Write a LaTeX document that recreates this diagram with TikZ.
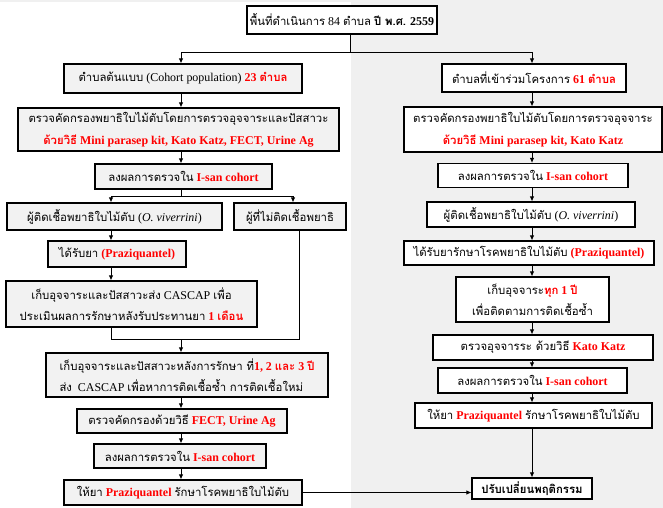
\documentclass[tikz,border=0pt]{standalone}
\usepackage{fontspec}
\setmainfont{Liberation Serif}
\newfontfamily\thaifont[Script=Thai,Scale=0.95]{Loma}
\usetikzlibrary{arrows.meta,shadows}
\definecolor{boxgray}{HTML}{F2F2F2}
\definecolor{panelgray}{HTML}{F0F0F0}
\newcommand\thx[1]{{\thaifont #1}}
\newcommand\rb[1]{{\color{red}\bfseries #1}}
\begin{document}
\begin{tikzpicture}[x=1bp,y=-1bp,
  box/.style={draw=black, line width=1.1bp, fill=boxgray, inner sep=0pt, align=center,
    font=\fontsize{12}{21.5}\selectfont,
    drop shadow={shadow xshift=1bp, shadow yshift=-1bp, opacity=1, fill=black!55}},
  wbox/.style={box, fill=white},
  sz/.style 2 args={minimum width=#1bp, minimum height=#2bp},
  conn/.style={line width=0.9bp, draw=black},
  arr/.style={conn, -{Latex[length=5bp,width=4.5bp]}}
]
\path[use as bounding box] (0,0) rectangle (663,508);
\fill[white] (0,0) rectangle (351,508);
\fill[panelgray] (351,0) rectangle (663,508);
\fill[panelgray] (0,0) rectangle (663,2);

% top
\node[wbox, sz={190}{28}] (top) at (342,20) {\thx{พื้นที่ดำเนินการ} 84 \thx{ตำบล} \textbf{\thx{ปี พ.ศ.} 2559}};

% left column
\node[box, sz={238}{29}] (L1) at (183,78.5) {\thx{ตำบลต้นแบบ} (Cohort population) \rb{23 \thx{ตำบล}}};
\node[box, sz={321}{43}] (L2) at (178.5,129.5) {\thx{ตรวจคัดกรองพยาธิใบไม้ตับโดยการตรวจอุจจาระและปัสสาวะ}\\ \rb{\thx{ด้วยวิธี} Mini parasep kit, Kato Katz, FECT, Urine Ag}};
\node[box, sz={177}{25}] (L3) at (183.5,176.5) {\thx{ลงผลการตรวจใน} \rb{I-san cohort}};
\node[box, sz={215}{27}] (L4) at (114.5,216.5) {\thx{ผู้ติดเชื้อพยาธิใบไม้ตับ} (\textit{O. viverrini})};
\node[box, sz={112}{27}] (L4b) at (290,216.5) {\thx{ผู้ที่ไม่ติดเชื้อพยาธิ}};
\node[box, sz={138}{26}] (L5) at (117,254) {\thx{ได้รับยา} \rb{(Praziquantel)}};
\node[box, sz={251}{46}] (L6) at (131.5,304) {\thx{เก็บอุจจาระและปัสสาวะส่ง} CASCAP \thx{เพื่อ}\\ \thx{ประเมินผลการรักษาหลังรับประทานยา} \rb{1 \thx{เดือน}}};
\node[box, sz={282}{44}, align=left] (L7) at (187,375) {\thx{เก็บอุจจาระและปัสสาวะหลังการรักษา ที่}\rb{1, 2 \thx{และ} 3 \thx{ปี}}\\ \thx{ส่ง}\ \ CASCAP \thx{เพื่อหาการติดเชื้อซ้ำ การติดเชื้อใหม่}};
\node[box, sz={210}{24}] (L8) at (182,421) {\thx{ตรวจคัดกรองด้วยวิธี} \rb{FECT, Urine Ag}};
\node[box, sz={172}{24}] (L9) at (180,456) {\thx{ลงผลการตรวจใน} \rb{I-san cohort}};
\node[box, sz={238}{25}] (L10) at (183,492.5) {\thx{ให้ยา} \rb{Praziquantel} \thx{รักษาโรคพยาธิใบไม้ตับ}};

% right column
\node[wbox, sz={184}{28}] (R1) at (534,78) {\thx{ตำบลที่เข้าร่วมโครงการ} \rb{61 \thx{ตำบล}}};
\node[wbox, sz={258}{45}] (R2) at (533,129.5) {\thx{ตรวจคัดกรองพยาธิใบไม้ตับโดยการตรวจอุจจาระ}\\ \rb{\thx{ด้วยวิธี} Mini parasep kit, Kato Katz}};
\node[wbox, sz={190}{24}] (R3) at (533,175.5) {\thx{ลงผลการตรวจใน} \rb{I-san cohort}};
\node[wbox, sz={208}{25}] (R4) at (531,214.5) {\thx{ผู้ติดเชื้อพยาธิใบไม้ตับ} (\textit{O. viverrini})};
\node[wbox, sz={250}{24}] (R5) at (529,253) {\thx{ได้รับยารักษาโรคพยาธิใบไม้ตับ} \rb{(Praziquantel)}};
\node[wbox, sz={153}{45}] (R6) at (532.5,299.5) {\thx{เก็บอุจจาระ}\rb{\thx{ทุก} 1 \thx{ปี}}\\ \thx{เพื่อติดตามการติดเชื้อซ้ำ}};
\node[wbox, sz={220}{25}] (R7) at (543,347.5) {\thx{ตรวจอุจจารระ ด้วยวิธี} \rb{Kato Katz}};
\node[wbox, sz={189}{25}] (R8) at (532.5,380.5) {\thx{ลงผลการตรวจใน} \rb{I-san cohort}};
\node[wbox, sz={237}{25}] (R9) at (533.5,415.5) {\thx{ให้ยา} \rb{Praziquantel} \thx{รักษาโรคพยาธิใบไม้ตับ}};
\node[wbox, sz={120}{21}] (fin) at (532,488.5) {\textbf{\thx{ปรับเปลี่ยนพฤติกรรม}}};

% columns
\coordinate (cL) at (181,0);
\coordinate (cB) at (111,0);
\coordinate (cC1) at (293,0);
\coordinate (cC2) at (299,0);
\coordinate (cR) at (532,0);
\coordinate (j0) at (350,52);
\coordinate (j1) at (181,196);
\coordinate (j2) at (181,339);

% connectors
\draw[conn] (top.south -| j0) -- (j0);
\draw[arr] (j0) -| (cL |- L1.north);
\draw[arr] (j0) -| (cR |- R1.north);
\draw[arr] (cL |- L1.south) -- (cL |- L2.north);
\draw[arr] (cL |- L2.south) -- (cL |- L3.north);
\draw[conn] (cL |- L3.south) -- (j1);
\draw[arr] (j1) -| (cB |- L4.north);
\draw[arr] (j1) -| (cC1 |- L4b.north);
\draw[arr] (cB |- L4.south) -- (cB |- L5.north);
\draw[arr] (cB |- L5.south) -- (cB |- L6.north);
\draw[conn] (cB |- L6.south) |- (cC2 |- j2) -- (cC2 |- L4b.south);
\draw[arr] (j2) -- (cL |- L7.north);
\draw[arr] (cL |- L7.south) -- (cL |- L8.north);
\draw[arr] (cL |- L8.south) -- (cL |- L9.north);
\draw[arr] (cL |- L9.south) -- (cL |- L10.north);
\draw[arr] (L10.east) -- (L10.east -| fin.west);

\draw[arr] (cR |- R1.south) -- (cR |- R2.north);
\draw[arr] (cR |- R2.south) -- (cR |- R3.north);
\draw[arr] (cR |- R3.south) -- (cR |- R4.north);
\draw[arr] (cR |- R4.south) -- (cR |- R5.north);
\draw[arr] (cR |- R5.south) -- (cR |- R6.north);
\draw[arr] (cR |- R6.south) -- (cR |- R7.north);
\draw[arr] (cR |- R7.south) -- (cR |- R8.north);
\draw[arr] (cR |- R8.south) -- (cR |- R9.north);
\draw[arr] (cR |- R9.south) -- (cR |- fin.north);
\end{tikzpicture}
\end{document}
